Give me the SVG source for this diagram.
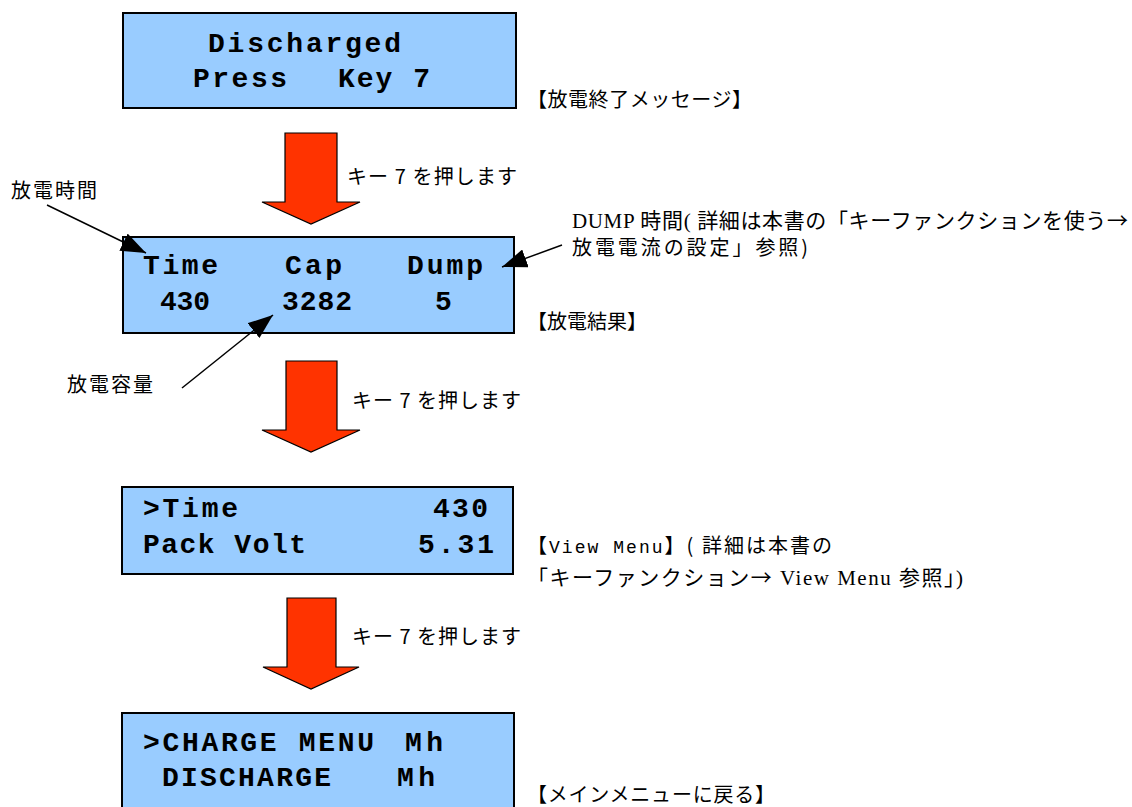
<svg xmlns="http://www.w3.org/2000/svg" width="1132" height="807" viewBox="0 0 1132 807">
<style>
.lcd{fill:#99CCFF;stroke:#000;stroke-width:2}
.mono{font-family:"Liberation Mono","DejaVu Sans Mono",monospace;font-weight:bold;font-size:28px;fill:#000}
.jp{font-family:"Noto Sans CJK JP",sans-serif;font-size:20px;fill:#000}
.ser{font-family:"Liberation Serif","Noto Sans CJK JP",serif;font-size:21px;fill:#000}
.cj{font-family:"Noto Sans CJK JP",sans-serif}
.cm{font-family:"Liberation Mono",monospace;font-size:18px}
.big{fill:#FF3300;stroke:#000;stroke-width:1.2}
.lead{stroke:#000;stroke-width:1.5;fill:none}
</style>
<defs>
<marker id="ah" viewBox="0 0 10 10" refX="10" refY="5" markerWidth="25" markerHeight="19" markerUnits="userSpaceOnUse" orient="auto" preserveAspectRatio="none">
<path d="M0,0 L10,5 L0,10 Z" fill="#000"/>
</marker>
</defs>
<rect width="1132" height="807" fill="#fff"/>

<g id="screen1">
<rect class="lcd" x="123" y="13" width="393" height="95"/>
<text class="mono" x="208" y="52" textLength="193">Discharged</text>
<text class="mono" x="193" y="87" textLength="94">Press</text>
<text class="mono" x="338" y="87" textLength="92">Key 7</text>
</g>
<g id="label1"><text class="jp" x="527" y="107" textLength="225">【放電終了メッセージ】</text></g>

<g id="screen2">
<rect class="lcd" x="123" y="237" width="391" height="96"/>
<text class="mono" x="143" y="274" textLength="75">Time</text>
<text class="mono" x="285" y="274" textLength="57">Cap</text>
<text class="mono" x="407" y="274" textLength="76">Dump</text>
<text class="mono" x="160" y="310" textLength="50">430</text>
<text class="mono" x="282" y="310" textLength="70">3282</text>
<text class="mono" x="435" y="310">5</text>
</g>
<g id="label2"><text class="jp" x="527" y="329">【放電結果】</text></g>

<g id="screen3">
<rect class="lcd" x="122" y="487" width="391" height="87"/>
<text class="mono" x="143" y="517" textLength="95">&gt;Time</text>
<text class="mono" x="433" y="517" textLength="55">430</text>
<text class="mono" x="143" y="553" textLength="163">Pack Volt</text>
<text class="mono" x="418" y="553" textLength="76">5.31</text>
</g>
<g id="label3">
<text class="jp" x="527" y="553" textLength="305">【<tspan class="cm">View Menu</tspan>】( 詳細は本書の</text>
<text class="ser" x="527" y="585" textLength="436">「キーファンクション<tspan class="cj">→</tspan>  View Menu 参照」)</text>
</g>

<g id="screen4">
<rect class="lcd" x="122" y="713" width="392" height="100"/>
<text class="mono" x="143" y="751" textLength="231">&gt;CHARGE MENU</text>
<text class="mono" x="405" y="751" textLength="38">Mh</text>
<text class="mono" x="162" y="786" textLength="169">DISCHARGE</text>
<text class="mono" x="397" y="786" textLength="38">Mh</text>
</g>
<g id="label4"><text class="jp" x="527" y="802" textLength="248">【メインメニューに戻る】</text></g>

<g id="note-time"><text class="jp" x="11" y="198" font-size="21" textLength="86">放電時間</text></g>
<g id="note-cap"><text class="jp" x="67" y="392" font-size="21" textLength="86">放電容量</text></g>
<g id="note-dump">
<text class="ser" x="572" y="228" textLength="556">DUMP 時間( 詳細は本書の「キーファンクションを使う<tspan class="cj">→</tspan></text>
<text class="jp" x="572" y="255" font-size="21" textLength="236">放電電流の設定」参照)</text>
</g>

<g id="connectors">
<path class="big" d="M285,133 H337 V202 H360 L311,224 L262,202 H285 Z"/>
<path class="big" d="M286,361 H337 V430 H360 L311,452 L262,430 H286 Z"/>
<path class="big" d="M287,598 H336 V667 H359 L311,689 L263,667 H287 Z"/>
<text class="jp" x="347" y="184" font-size="21" textLength="170">キー 7 を押します</text>
<text class="jp" x="352" y="408" font-size="21" textLength="169">キー 7 を押します</text>
<text class="jp" x="352" y="644" font-size="21" textLength="169">キー 7 を押します</text>
<line class="lead" x1="47" y1="205" x2="146" y2="253" marker-end="url(#ah)"/>
<line class="lead" x1="182" y1="388" x2="273" y2="315" marker-end="url(#ah)"/>
<line class="lead" x1="562" y1="245" x2="502" y2="267" marker-end="url(#ah)"/>
</g>
</svg>
